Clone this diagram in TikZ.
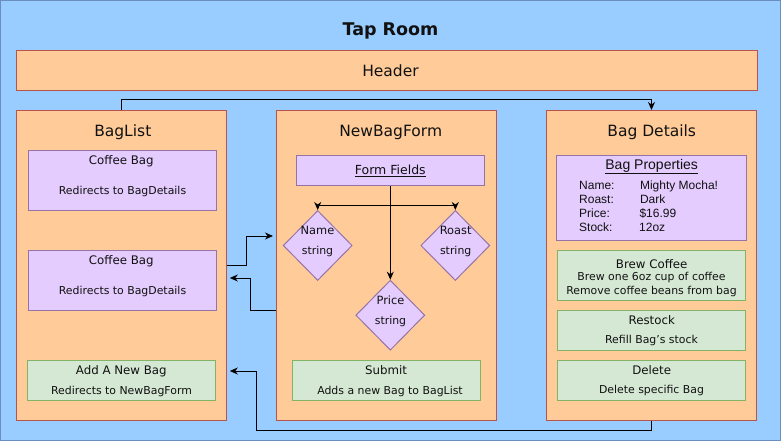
\documentclass[tikz,border=0pt]{standalone}
\usepackage{fontspec}
\setmainfont{DejaVu Sans}
\newfontfamily\arialfam{Liberation Sans}
\usetikzlibrary{arrows.meta,shapes.geometric}
\definecolor{bgblue}{HTML}{99CCFF}
\definecolor{bgline}{HTML}{6C8EBF}
\definecolor{orfill}{HTML}{FFCC99}
\definecolor{orline}{HTML}{B85450}
\definecolor{pufill}{HTML}{E5CCFF}
\definecolor{puline}{HTML}{9673A6}
\definecolor{grfill}{HTML}{D5E8D4}
\definecolor{grline}{HTML}{82B366}
\definecolor{txt}{HTML}{111111}
\begin{document}
\begin{tikzpicture}[x=1pt,y=-1pt,line width=1pt,
 obox/.style={draw=orline,fill=orfill,rectangle,inner sep=0pt},
 pbox/.style={draw=puline,fill=pufill,rectangle,inner sep=0pt},
 gbox/.style={draw=grline,fill=grfill,rectangle,inner sep=0pt},
 pdia/.style={draw=puline,fill=pufill,diamond,inner sep=0pt,minimum width=69pt,minimum height=70pt},
 ttl/.style={text=txt,font=\fontsize{15.5}{18}\selectfont,inner sep=0pt},
 big/.style={text=txt,font=\fontsize{11.8}{14}\selectfont,inner sep=0pt},
 dtxt/.style={text=txt,font=\fontsize{11.4}{14}\selectfont,inner sep=0pt},
 small/.style={text=txt,font=\fontsize{10.9}{13}\selectfont,inner sep=0pt},
 arl/.style={text=txt,font=\arialfam\fontsize{12}{14}\selectfont,inner sep=0pt,anchor=base west},
 arr/.style={draw=black,line width=1pt,-{Stealth[length=8pt,width=7pt,inset=2.5pt]}}]
\useasboundingbox (0,0) rectangle (781,441);
\node[draw=bgline,fill=bgblue,minimum width=780pt,minimum height=440pt,inner sep=0pt] (bg) at (390.5,220.5) {};
\node[text=txt,font=\bfseries\fontsize{17.5}{20}\selectfont,inner sep=0pt] (title) at (390.5,31) {Tap Room};
\node[obox,minimum width=741pt,minimum height=40pt] (header) at (386.5,71) {};
\node[ttl] (headert) at (390.5,71) {Header};
% BagList
\node[obox,minimum width=210pt,minimum height=310pt] (baglist) at (121.3,265.5) {};
\node[ttl] (baglistt) at (122.8,132) {BagList};
\node[pbox,minimum width=188pt,minimum height=60pt] (cb1) at (122.5,180) {};
\node[big] (cb1a) at (121.3,161) {Coffee Bag};
\node[small] (cb1b) at (122.5,191) {Redirects to BagDetails};
\node[pbox,minimum width=188pt,minimum height=60pt] (cb2) at (122.5,280) {};
\node[big] (cb2a) at (121.3,261) {Coffee Bag};
\node[small] (cb2b) at (122.5,291) {Redirects to BagDetails};
\node[gbox,minimum width=188pt,minimum height=40pt] (addbag) at (121.5,380) {};
\node[big] (addbaga) at (121.3,371) {Add A New Bag};
\node[small] (addbagb) at (121.5,391) {Redirects to NewBagForm};
% NewBagForm
\node[obox,minimum width=220pt,minimum height=310pt] (newbag) at (386.5,265.5) {};
\node[ttl] (newbagt) at (390.7,132) {NewBagForm};
\node[pbox,minimum width=188pt,minimum height=30pt] (formf) at (390.3,170.5) {};
\node[text=txt,font=\fontsize{12.5}{15}\selectfont,inner sep=0pt] (formft) at (390.3,171) {\underline{Form Fields}};
\node[pdia] (named) at (317.7,245.5) {};
\node[pdia] (roastd) at (455.3,245.5) {};
\node[pdia] (priced) at (390.3,315.2) {};
\node[dtxt] (namea) at (317.5,230) {Name};
\node[small] (nameb) at (317.5,251) {string};
\node[dtxt] (roasta) at (455.7,230) {Roast};
\node[small] (roastb) at (455.7,251) {string};
\node[dtxt] (pricea) at (390.5,300.5) {Price};
\node[small] (priceb) at (390.5,321) {string};
\node[gbox,minimum width=188pt,minimum height=40pt] (submit) at (386.5,380.3) {};
\node[big] (submita) at (386,370.5) {Submit};
\node[small] (submitb) at (390,391) {Adds a new Bag to BagList};
% Bag Details
\node[obox,minimum width=210pt,minimum height=310pt] (details) at (651.5,265.5) {};
\node[ttl] (detailst) at (651.7,132) {Bag Details};
\node[pbox,minimum width=190pt,minimum height=85pt] (props) at (651.5,197.8) {};
\node[text=txt,font=\arialfam\fontsize{14}{16}\selectfont,inner sep=0pt] (propst) at (651.7,166.5) {\underline{Bag Properties}};
\node[arl] (pn) at (578.7,189) {Name:};
\node[arl] (pr) at (578.7,203) {Roast:};
\node[arl] (pp) at (578.7,217) {Price:};
\node[arl] (ps) at (578.7,231) {Stock:};
\node[arl] (vn) at (639.5,189) {Mighty Mocha!};
\node[arl] (vr) at (639.5,203) {Dark};
\node[arl] (vp) at (639,217) {\$16.99};
\node[arl] (vs) at (638.7,231) {12oz};
\node[gbox,minimum width=188pt,minimum height=50pt] (brew) at (651.5,275.3) {};
\node[big] (brewa) at (651.7,263.7) {Brew Coffee};
\node[small] (brewb) at (651.5,277) {Brew one 6oz cup of coffee};
\node[small] (brewc) at (651.5,291) {Remove coffee beans from bag};
\node[gbox,minimum width=188pt,minimum height=40pt] (restock) at (651.5,330.3) {};
\node[big] (restocka) at (651.7,320.5) {Restock};
\node[small] (restockb) at (651.5,340.7) {Refill Bag's stock};
\node[gbox,minimum width=188pt,minimum height=40pt] (delete) at (651.5,380.3) {};
\node[big] (deletea) at (651.7,370.5) {Delete};
\node[small] (deleteb) at (651.5,390.7) {Delete specific Bag};
% connectors
\coordinate (jn) at (390.3,205.7);
\coordinate (turn4) at (256,430.5);
\draw[arr] (formf.south) -- (priced.north);
\draw[arr] (jn) -| (named.north);
\draw[arr] (jn) -| (roastd.north);
\draw[arr] (baglist.north) -- ++(0,-10) -| (details.north);
\draw[arr,shorten >=3pt] (baglist.east) -- ++(20,0) |- ([yshift=29.5pt]newbag.west);
\draw[arr,shorten >=3pt] ([yshift=-44.5pt]newbag.west) -- ++(-25.5,0) |- ([yshift=-12.5pt]baglist.east);
\draw[arr,shorten >=3pt] (details.south) |- (turn4) |- ([yshift=-105.5pt]baglist.east);
\end{tikzpicture}
\end{document}
